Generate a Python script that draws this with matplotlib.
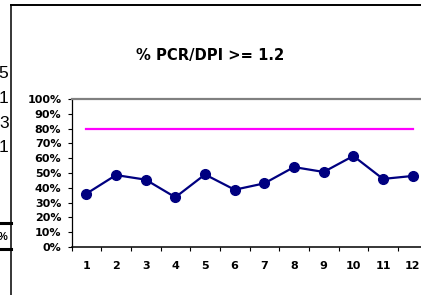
import matplotlib
matplotlib.use("Agg")
import matplotlib.pyplot as plt
from matplotlib.lines import Line2D

# data
months = [1, 2, 3, 4, 5, 6, 7, 8, 9, 10, 11, 12]
pct_ok = [0.36, 0.486, 0.455, 0.336, 0.49, 0.387, 0.43, 0.54, 0.507, 0.615, 0.46, 0.48]
target = [0.8] * 12
ytick_vals = [i / 10 for i in range(11)]
ytick_labels = ["%d%%" % (i * 10) for i in range(11)]
title = "% PCR/DPI >= 1.2"
# cut-off text from a neighbouring table on the left edge
side_digits = ["5", "1", "3", "1"]

W, H = 421, 295
fig = plt.figure(figsize=(W / 100, H / 100), dpi=100)


def fx(px):
    return px / W


def fy(py):
    return 1 - py / H


# main chart axes (right side runs off the picture, like the original)
ax = fig.add_axes([fx(71.5), fy(247), fx(356), 148 / H])
ax.plot(months, target, color="#FF00FF", lw=1.6, zorder=2)
ax.plot(months, pct_ok, color="#000080", lw=1.6, marker="o", ms=7,
        mfc="#000080", mec="#000080", zorder=3)

ax.set_xlim(0.5, 12.5)
ax.set_ylim(0, 1)
ax.set_yticks(ytick_vals)
ax.set_yticklabels(ytick_labels)
ax.set_xticks([m - 0.5 for m in months] + [12.5])
ax.set_xticklabels([])
ax.set_xticks(months, minor=True)
ax.set_xticklabels([str(m) for m in months], minor=True)

for t in ax.get_yticklabels() + ax.get_xticklabels(minor=True):
    t.set_fontfamily("DejaVu Sans")
    t.set_fontweight("bold")
    t.set_fontsize(8)

ax.tick_params(axis="y", direction="out", length=3, width=0.8, pad=4.3, color="black")
ax.tick_params(axis="x", which="major", direction="out", length=3, width=0.8, color="black")
ax.tick_params(axis="x", which="minor", length=0, pad=10.4)

ax.spines["right"].set_visible(False)
ax.spines["top"].set_color("#808080")
ax.spines["top"].set_linewidth(1.6)
ax.spines["left"].set_color("black")
ax.spines["left"].set_linewidth(0.9)
ax.spines["bottom"].set_color("black")
ax.spines["bottom"].set_linewidth(1.1)
ax.set_facecolor("none")

fig.text(fx(210), fy(60), title, ha="center", va="baseline",
         family="DejaVu Sans", weight="bold", fontsize=10.6)

# outer chart frame
fig.add_artist(Line2D([fx(10.5), fx(10.5)], [0, fy(4.5)], color="black", lw=1.1))
fig.add_artist(Line2D([fx(10.5), 1], [fy(4.5), fy(4.5)], color="black", lw=1.4))

# clipped pieces of the table to the left
for i, d in enumerate(side_digits):
    fig.text(fx(8.5), fy(78.5 + i * 24.5), d, ha="right", va="baseline",
             family="Liberation Sans", fontsize=12.5)
fig.add_artist(Line2D([0, fx(10.5)], [fy(223), fy(223)], color="black", lw=2.2))
fig.add_artist(Line2D([0, fx(10.5)], [fy(249), fy(249)], color="black", lw=2.2))
fig.text(fx(7), fy(240), "%", ha="right", va="baseline",
         family="Liberation Sans", weight="bold", fontsize=8)

fig.savefig("out.png", dpi=100)
